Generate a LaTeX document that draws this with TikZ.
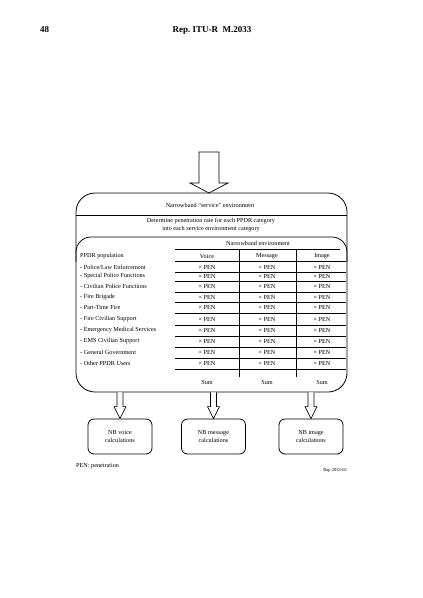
\documentclass[tikz,border=0pt]{standalone}
\usepackage{fontspec}
\setmainfont{Liberation Serif}
\usetikzlibrary{calc}
\begin{document}
\begin{tikzpicture}[x=1pt,y=-1pt,
  txt/.style={font=\fontsize{6.2}{7.1}\selectfont, inner sep=0pt},
  hdr/.style={font=\bfseries\fontsize{9}{10}\selectfont, inner sep=0pt},
  ln/.style={line width=0.8pt},
  tl/.style={line width=0.75pt},
  calcbox/.style={draw, line width=0.8pt, rounded corners=6pt, minimum width=64pt, minimum height=35pt, align=center, inner sep=0pt, font=\fontsize{6.2}{7.6}\selectfont},
  hollow/.style={draw, line width=0.7pt, fill=white, line join=miter}]
\useasboundingbox (0,0) rectangle (423,598);

% header
\node[hdr, anchor=west] (pg) at (40,30) {48};
\node[hdr] (rep) at (212,30) {Rep.\ ITU-R\ \ M.2033};

% outer box
\node[draw, ln, rounded corners=19pt, minimum width=271pt, minimum height=199pt, inner sep=0pt] (outer) at (211.5,292.5) {};
\draw[ln] (76,215) -- (347,215);
\draw[ln, rounded corners=15pt] (76,262) -- (76,237) -- (347,237) -- (347,262);

% big arrow
\coordinate (tipA) at (209,193);
\draw[hollow] ($(tipA)+(-10,-41)$) -- ($(tipA)+(10,-41)$) -- ($(tipA)+(10,-10)$) -- ($(tipA)+(19,-10)$) -- (tipA) -- ($(tipA)+(-19,-10)$) -- ($(tipA)+(-10,-10)$) -- cycle;

% texts
\node[txt] (svc) at (210,205) {Narrowband ``service'' environment};
\node[txt, align=center] (det) at (211,225) {Determine penetration rate for each PPDR category\\into each service environment category};
\node[txt] (nbe) at (258,243) {Narrowband environment};

% table lines
\draw[tl] (175,249) -- (340,249);
\draw[tl] (239,249) -- (239,377);
\draw[tl] (296,249) -- (296,377);
\foreach \y in {261,272,281,292,302,313,325,336,347,358,369}
  \draw[tl] (175,\y) -- (346,\y);

\node[txt, anchor=west] (pop) at (80,256) {PPDR population};
\node[txt] (hv) at (207,256) {Voice};
\node[txt] (hm) at (267,256) {Message};
\node[txt] (hi) at (322,256) {Image};

\foreach \y/\lab [count=\i] in {267/{Police/Law Enforcement}, 276.5/{Special Police Functions}, 286.5/{Civilian Police Functions}, 297/{Fire Brigade}, 307.5/{Part-Time Fire}, 319/{Fire Civilian Support}, 330.5/{Emergency Medical Services}, 341.5/{EMS Civilian Support}, 352.5/{General Government}, 363.5/{Other PPDR Users}} {
  \node[txt, anchor=west] (r\i) at (80,\y) {- \lab};
  \node[txt] (v\i) at (207,\y) {× PEN};
  \node[txt] (m\i) at (267,\y) {× PEN};
  \node[txt] (g\i) at (322,\y) {× PEN};
}

\node[txt] (sv) at (207,382) {Sum};
\node[txt] (sm) at (267,382) {Sum};
\node[txt] (si) at (322,382) {Sum};

% calculation boxes
\node[calcbox] (b1) at (120,436.5) {NB voice\\calculations};
\node[calcbox] (b2) at (213.5,436.5) {NB message\\calculations};
\node[calcbox] (b3) at (311,436.5) {NB image\\calculations};

% small arrows
\foreach \b in {b1,b2,b3} {
  \coordinate (t\b) at (\b.north);
  \coordinate (s\b) at (\b.north |- outer.south);
  \draw[hollow] ($(s\b)+(-3,0)$) -- ($(t\b)+(-3,-12)$) -- ($(t\b)+(-6,-12)$) -- (t\b) -- ($(t\b)+(6,-12)$) -- ($(t\b)+(3,-12)$) -- ($(s\b)+(3,0)$);
}

% footnotes
\node[txt, anchor=west] (pen) at (76,466) {PEN: penetration};
\node[font=\fontsize{4.5}{5}\selectfont, inner sep=0pt, anchor=east] (rap) at (347,470) {Rap 2033-02};
\end{tikzpicture}
\end{document}
